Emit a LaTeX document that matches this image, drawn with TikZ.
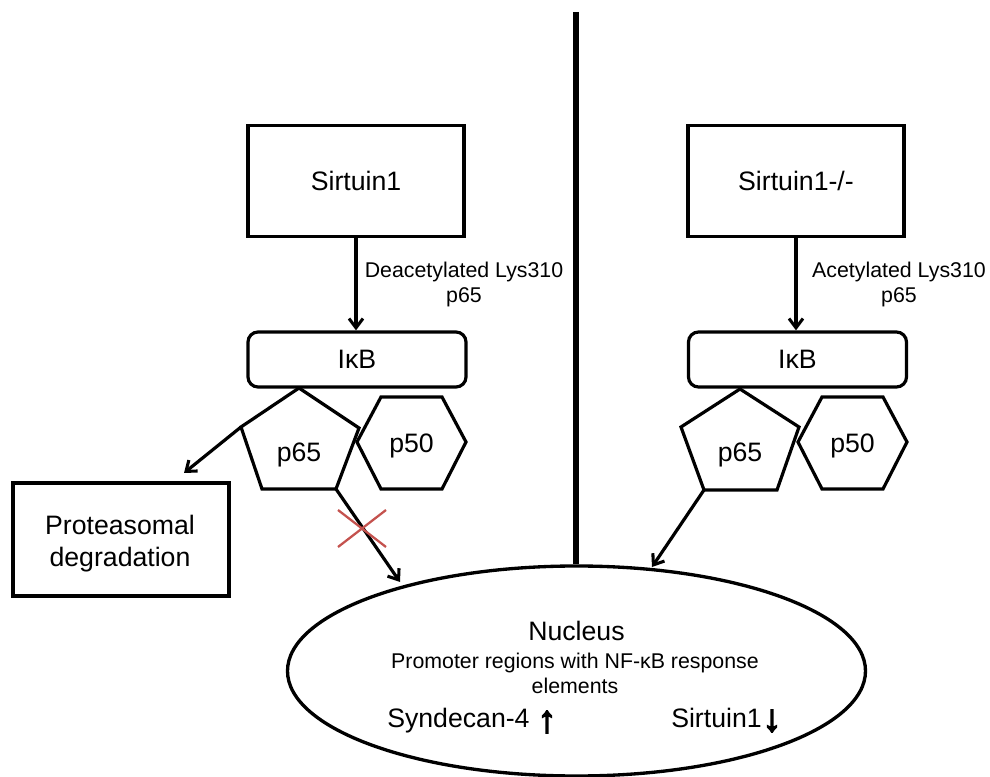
\documentclass[tikz,border=0pt]{standalone}
\usepackage{fontspec}
\setmainfont{Liberation Sans}
\newfontfamily\arrowfont[FakeBold=4]{Liberation Sans}
\usetikzlibrary{arrows.meta,shapes.geometric}
\definecolor{xred}{RGB}{196,82,78}
\begin{document}
\begin{tikzpicture}[x=0.75pt,y=-0.75pt,
  big/.style={font=\fontsize{20}{24}\selectfont,inner sep=0pt},
  small/.style={font=\fontsize{16}{19}\selectfont,inner sep=0pt},
  arrowglyph/.style={font=\arrowfont\fontsize{28}{30}\selectfont,inner sep=0pt},
  box/.style={draw,line width=2.4pt,minimum width=162pt,minimum height=83.5pt,inner sep=0pt,font=\fontsize{20}{24}\selectfont},
  ikb/.style={draw,line width=2.4pt,rounded corners=7.5pt,minimum width=163.5pt,minimum height=41.25pt,inner sep=0pt,font=\fontsize{20}{24}\selectfont},
  shapeline/.style={line width=2.4pt,line join=miter},
  arr/.style={line width=2.4pt,-{Straight Barb[length=7pt,width=10.5pt,line width=2.3pt]}},
]
\useasboundingbox (0,0) rectangle (990,777);

% divider and nucleus
\node[draw,ellipse,line width=2.5pt,minimum width=433.5pt,minimum height=157.5pt,inner sep=0pt] (nuc) at (576.5,671) {};
\coordinate (divtop) at (576,12);
\draw[line width=3.9pt] (divtop) -- (divtop |- nuc.north);

% top boxes
\node[box] (sL) at (356,181) {Sirtuin1};
\node[box] (sR) at (796,181) {Sirtuin1-/-};
\node[ikb] (iL) at (357,359.5) {IκB};
\node[ikb] (iR) at (797.5,359.5) {IκB};
\draw[arr] (sL.south) -- (sL.south |- iL.north);
\draw[arr] (sR.south) -- (sR.south |- iR.north);

% labels
\node[small,anchor=base] (lL1) at (464,278) {Deacetylated Lys310};
\node[small,anchor=base] (lL2) at (464,303) {p65};
\node[small,anchor=base] (lR1) at (899,278) {Acetylated Lys310};
\node[small,anchor=base] (lR2) at (899,303) {p65};

% left pentagon and hexagon
\coordinate (pLt) at (299,388);
\coordinate (pLl) at (241,427);
\coordinate (pLr) at (359,428);
\coordinate (pLbl) at (262,489);
\coordinate (pLbr) at (336,489);
\draw[shapeline] (pLt) -- (pLr) -- (pLbr) -- (pLbl) -- (pLl) -- cycle;
\node[big,anchor=base] (p65L) at (299,462) {p65};
\coordinate (hL1) at (357,442);
\coordinate (hL2) at (381,397);
\coordinate (hL3) at (442,397);
\coordinate (hL4) at (466,442);
\coordinate (hL5) at (442,489);
\coordinate (hL6) at (381,489);
\draw[shapeline] (hL1) -- (hL2) -- (hL3) -- (hL4) -- (hL5) -- (hL6) -- cycle;
\node[big,anchor=base] (p50L) at (411.5,453) {p50};

% right pentagon and hexagon
\coordinate (pRt) at (740,389);
\coordinate (pRl) at (681,427);
\coordinate (pRr) at (799,427);
\coordinate (pRbl) at (704,490);
\coordinate (pRbr) at (777,490);
\draw[shapeline] (pRt) -- (pRr) -- (pRbr) -- (pRbl) -- (pRl) -- cycle;
\node[big,anchor=base] (p65R) at (740,462) {p65};
\coordinate (hR1) at (798,442);
\coordinate (hR2) at (822,397);
\coordinate (hR3) at (883,397);
\coordinate (hR4) at (907,442);
\coordinate (hR5) at (883,489);
\coordinate (hR6) at (822,489);
\draw[shapeline] (hR1) -- (hR2) -- (hR3) -- (hR4) -- (hR5) -- (hR6) -- cycle;
\node[big,anchor=base] (p50R) at (852.5,453) {p50};

% proteasomal degradation
\node[draw,line width=2.4pt,minimum width=162pt,minimum height=84.75pt,inner sep=0pt] (prot) at (121,539.5) {};
\node[big,anchor=base] (protA) at (120,534) {Proteasomal};
\node[big,anchor=base] (protB) at (120,566) {degradation};
\coordinate (protTip) at (184,473);
\draw[arr] (pLl) -- (protTip);

% arrows to nucleus
\coordinate (nucTipL) at (400,582);
\coordinate (nucTipR) at (652,567);
\draw[arr] (pLbr) -- (nucTipL);
\draw[arr] (pRbl) -- (nucTipR);

% red cross
\coordinate (xa) at (338,510);
\coordinate (xb) at (386,547);
\coordinate (xc) at (386,510);
\coordinate (xd) at (338,547);
\draw[xred,line width=1.7pt] (xa) -- (xb) (xc) -- (xd);

% nucleus texts
\node[big,anchor=base] (nucT) at (576.5,640) {Nucleus};
\node[small,anchor=base] (prom1) at (575,668) {Promoter regions with NF-κB response};
\node[small,anchor=base] (prom2) at (575,693) {elements};
\node[big,anchor=base west] (synd) at (387,727) {Syndecan-4};
\node[arrowglyph] (upA) at (547,722) {↑};
\node[big,anchor=base west] (sirN) at (671,727) {Sirtuin1};
\node[arrowglyph] (downA) at (772,721) {↓};
\end{tikzpicture}
\end{document}
